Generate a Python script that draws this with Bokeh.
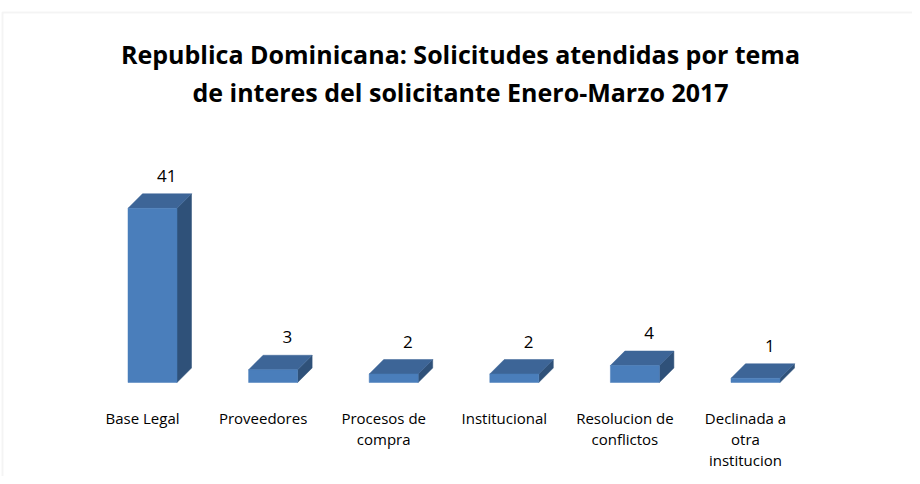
from bokeh.plotting import figure
from bokeh.models import ColumnDataSource, Range1d, BoxAnnotation
from bokeh.embed import file_html
from bokeh.resources import INLINE
from bokeh.core.properties import value

# ---- data ----
categories = ["Base Legal", "Proveedores", "Procesos de\ncompra", "Institucional",
              "Resolucion de\nconflictos", "Declinada a\notra\ninstitucion"]
counts = [41, 3, 2, 2, 4, 1]
title_lines = ["Republica Dominicana: Solicitudes atendidas por tema",
               "de interes del solicitante Enero-Marzo 2017"]

# ---- layout constants ----
W, H = 912, 476
PX_X = 120.6          # pixels per category
PX_Y = 4.25           # pixels per unit
BASE_PX = 382         # baseline, pixels from top
FIRST_PX = 152        # first bar centre, pixels from left
X0 = -FIRST_PX / PX_X
X1 = X0 + W / PX_X
Y0 = -(H - BASE_PX) / PX_Y
Y1 = Y0 + H / PX_Y

def px_x(px):  # pixel from left -> data x
    return X0 + px / PX_X

def px_y(py):  # pixel from top -> data y
    return Y0 + (H - py) / PX_Y

half = 24.5 / PX_X
DX = 14.5 / PX_X
DY = 14.5 / PX_Y

FRONT = "#4a7ebb"
TOP = "#3d6597"
SIDE = "#2f5179"

p = figure(width=W, height=H, output_backend="svg", toolbar_location=None,
           x_range=Range1d(X0, X1), y_range=Range1d(Y0, Y1), min_border=0)
p.axis.visible = False
p.grid.visible = False
p.outline_line_color = None
p.background_fill_color = "white"
p.border_fill_color = "white"

# chart border (only top/left visible within window)
p.add_layout(BoxAnnotation(left=px_x(2), right=X1 + 5, top=px_y(12), bottom=Y0 - 20,
                           fill_alpha=0, line_color="#d9d9d9", line_width=2))

xs = list(range(len(counts)))
front_xs, front_ys, top_xs, top_ys, side_xs, side_ys = [], [], [], [], [], []
for i, v in zip(xs, counts):
    l, r = i - half, i + half
    front_xs.append([l, r, r, l]); front_ys.append([0, 0, v, v])
    top_xs.append([l, l + DX, r + DX, r]); top_ys.append([v, v + DY, v + DY, v])
    side_xs.append([r, r + DX, r + DX, r]); side_ys.append([0, DY, v + DY, v])

p.patches(side_xs, side_ys, fill_color=SIDE, line_color=SIDE, line_width=0.5)
p.patches(top_xs, top_ys, fill_color=TOP, line_color=TOP, line_width=0.5)
p.patches(front_xs, front_ys, fill_color=FRONT, line_color=FRONT, line_width=0.5)

# value labels
src = ColumnDataSource(dict(x=[i + DX / 2 + 7 / PX_X for i in xs],
                            y=[v + DY for v in counts],
                            t=[str(v) for v in counts]))
p.text(x="x", y="y", text="t", source=src, text_align="center", text_baseline="bottom",
       y_offset=-12, text_font=value("Open Sans"), text_font_size="17px", text_color="#000000")

# category labels
csrc = ColumnDataSource(dict(x=xs, y=[0] * len(xs), t=categories))
p.text(x="x", y="y", text="t", source=csrc, text_align="center", text_baseline="top",
       x_offset=-10, y_offset=25, text_font=value("Open Sans"), text_font_size="15px",
       text_color="#000000", text_line_height=1.06)

# title
p.text(x=[px_x(460)] * 2, y=[px_y(53), px_y(91)], text=title_lines,
       text_align="center", text_baseline="alphabetic", text_font=value("Open Sans"),
       text_font_style="bold", text_font_size="25px", text_color="#000000")

open("out.html", "w").write(file_html(p, INLINE))
